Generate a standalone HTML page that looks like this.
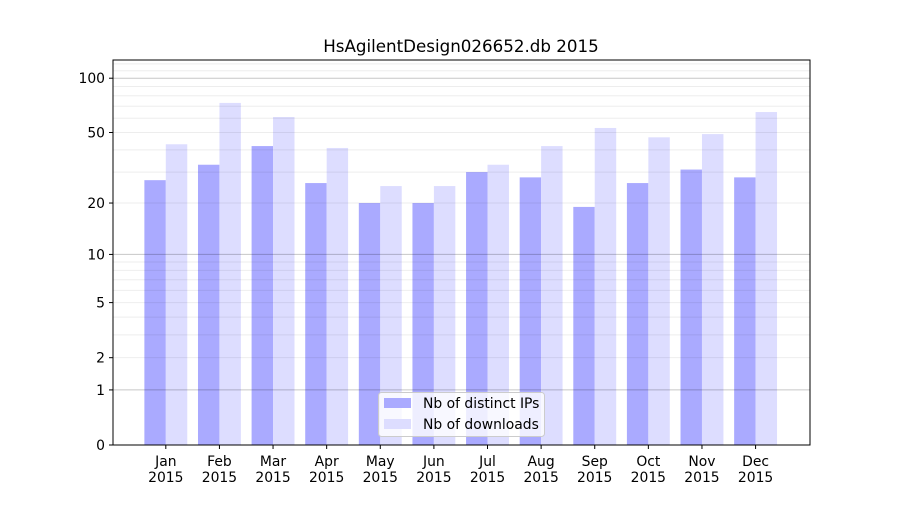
<!DOCTYPE html>
<html><head><meta charset="utf-8"><style>
body{margin:0;background:#fff}
svg{font-family:"DejaVu Sans","Liberation Sans",sans-serif}
</style></head><body>
<svg id="chart" width="900" height="500">
<rect width="900" height="500" fill="#fff"/>
<text x="461" y="52" text-anchor="middle" font-size="16.7">HsAgilentDesign026652.db 2015</text>
<g id="bars"></g><g id="grid"></g><g id="axes"></g>
<rect x="113" y="60" width="697" height="385" fill="none" stroke="#000" stroke-width="1"/>
<g>
<rect x="378.5" y="392.5" width="166" height="44" rx="3" fill="#fff" fill-opacity="0.8" stroke="#ccc"/>
<rect x="384" y="398" width="27" height="10" fill="#aaaaff"/>
<text x="423" y="408" font-size="13.9">Nb of distinct IPs</text>
<rect x="384" y="419" width="27" height="10" fill="#ddddff"/>
<text x="423" y="429" font-size="13.9">Nb of downloads</text>
</g>
</svg>
<script>
const months=["Jan","Feb","Mar","Apr","May","Jun","Jul","Aug","Sep","Oct","Nov","Dec"];
const ips=[27,33,42,26,20,20,30,28,19,26,31,28];
const downloads=[43,73,61,41,25,25,33,42,53,47,49,65];
const yTicks=[0,1,2,5,10,20,50,100];
const NS="http://www.w3.org/2000/svg";
const X0=113,X1=810,Y0=445;
const xs=i=>X0+(i+1)*(X1-X0)/13-0.8;
const ys=v=>Y0-183*Math.log10(1+v);
const bw=0.4*(X1-X0)/13;
function mk(t,a,p,txt){const e=document.createElementNS(NS,t);for(const k in a)e.setAttribute(k,a[k]);if(txt!==undefined)e.textContent=txt;p.appendChild(e);return e;}
const gb=document.getElementById('bars'),gg=document.getElementById('grid'),ga=document.getElementById('axes');
months.forEach((m,i)=>{
 const b1=mk('rect',{x:xs(i)-bw,y:ys(ips[i]),width:bw,height:Y0-ys(ips[i]),fill:'#aaaaff'},gb);
 
 
 const b2=mk('rect',{x:xs(i),y:ys(downloads[i]),width:bw,height:Y0-ys(downloads[i]),fill:'#ddddff'},gb);
 
 
 mk('line',{x1:xs(i),x2:xs(i),y1:Y0,y2:Y0+4,stroke:'#000'},ga);
 const t=mk('text',{x:xs(i),y:466,'text-anchor':'middle','font-size':13.9},ga);
 
 
 mk('tspan',{x:xs(i)},t,m);mk('tspan',{x:xs(i),dy:16},t,'2015');
});
[2,3,4,5,6,7,8,9,20,30,40,50,60,70,80,90,110,120].forEach(v=>{
 mk('line',{x1:X0,x2:X1,y1:ys(v),y2:ys(v),stroke:'#000','stroke-opacity':0.07},gg);
});
[1,10,100].forEach(v=>{
 mk('line',{x1:X0,x2:X1,y1:ys(v),y2:ys(v),stroke:'#000','stroke-opacity':0.22},gg);
});
yTicks.forEach(v=>{
 mk('line',{x1:X0-4,x2:X0,y1:ys(v),y2:ys(v),stroke:'#000'},ga);
 const t=mk('text',{x:X0-8,y:ys(v)+5,'text-anchor':'end','font-size':13.9},ga,String(v));
 
 
});
</script>
</body></html>
